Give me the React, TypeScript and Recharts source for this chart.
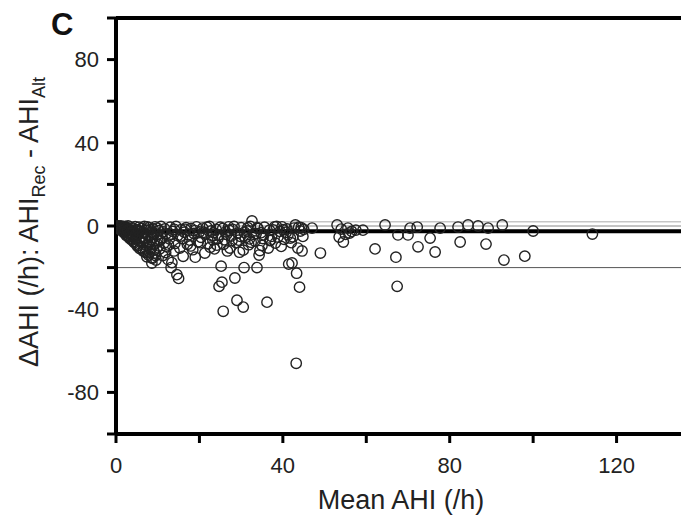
import { ReferenceLine, Scatter, ScatterChart, XAxis, YAxis } from "recharts";

// mean AHI (x) and difference Rec - Alt (y) in three bands
const lowMean = [
  0.2, 0.4, 0.5, 0.7, 0.8, 1.0, 1.1, 1.2, 1.4, 1.5, 1.7, 1.8, 2.0, 2.1, 2.3, 2.4, 2.6, 2.7, 2.9, 3.0,
  3.1, 3.3, 3.5, 3.6, 3.7, 3.9, 4.0, 4.2, 4.3, 4.5, 4.6, 4.8, 4.9, 5.0,
  5.2, 5.3, 5.5, 5.6, 5.8, 5.9, 6.1, 6.2, 6.4, 6.5, 6.7, 6.8, 7.0, 7.1, 7.3, 7.4, 7.4, 7.6, 7.8, 7.9,
  8.1, 8.3, 8.4, 8.6, 8.6, 8.8, 8.9, 9.1, 9.3, 9.4, 9.6, 9.8, 10.0,
  10.3, 10.5, 10.8, 11.0, 11.2, 11.5, 11.7, 12.0, 12.2, 12.5, 12.8, 13.0, 13.2, 13.4, 13.6, 13.9, 14.1,
  14.4, 14.6, 14.8,
  0.3, 0.6, 0.9, 1.3, 1.6, 1.9, 2.2, 2.5, 2.8, 3.2, 3.4, 3.8, 4.1, 4.4, 4.7, 5.1, 5.4, 5.7, 6.0, 6.3,
  6.6, 6.9, 7.2, 7.5, 7.7, 8.0, 8.2, 8.5, 8.7, 9.0, 9.2, 9.5, 9.7, 9.9, 10.6, 11.3, 11.9, 12.6, 13.3, 14.0,
];
const lowDiff = [
  -0.1, -0.3, 0, -0.6, -0.2, -1.2, -0.4, 0, -1.8, -0.8, -2.6, -0.3, -1.5, -3.4, -0.6, -2.2, -4.2, -1.1, 0, -3.0,
  -5.2, -1.8, -0.5, -4.0, -6.2, -2.6, -1.0, -5.0, -7.4, -3.2, -0.3, -6.0, -8.6, -1.8,
  -4.2, -9.2, -0.6, -6.8, -2.6, -10.4, -5.0, -1.2, -8.0, -11.6, -3.4, -0.2, -6.2, -12.8, -9.4, -2.0, -14.8, -4.6, -14.0, -0.8,
  -7.6, -11.2, -3.0, -15.2, -17.8, -5.6, -1.4, -9.0, -13.0, -0.4, -16.4, -4.2, -7.0,
  -2.2, -11.0, -0.2, -5.6, -14.2, -8.2, -1.4, -3.8, -10.0, -16.2, -6.2, -0.6, -20.0, -17.6, -2.6, -12.0, -8.4,
  -0.2, -23.4, -4.6,
  -0.4, -0.9, -1.5, -2.2, -1.0, -3.2, -0.2, -4.6, -2.0, -5.8, -3.6, -6.8, -2.4, -8.0, -4.4, -9.6, -2.2, -10.8, -7.2, -3.2,
  -12.2, -5.4, -10.6, -0.4, -8.8, -12.6, -1.8, -6.6, -15.6, -11.6, -3.6, -14.2, -8.0, -1.0, -6.8, -2.8, -12.8, -9.2, -4.0, -1.6,
];

const midMean = [
  15.0, 15.3, 15.6, 15.9, 16.1, 16.4, 16.8, 17.1, 17.4, 17.7, 18.0, 18.4, 18.7, 19.0, 19.3, 19.7, 20.0,
  20.4, 20.8, 21.3, 21.6, 22.0, 22.4, 22.8, 23.2, 23.6, 24.0, 24.2, 24.6, 24.7, 25.0, 25.2, 25.4, 25.7,
  26.0, 26.3, 26.7, 27.0, 27.3, 27.6, 28.0, 28.5, 28.8, 29.0, 29.2, 29.6, 30.0, 30.5, 30.5, 30.7,
  31.0, 31.4, 31.8, 32.2, 32.6, 33.0, 33.3, 33.8, 34.0, 34.3, 34.5, 34.8, 35.2, 35.6, 36.2, 36.5, 36.8,
  37.3, 37.7, 38.2, 38.8, 39.3, 39.8, 40.3, 40.8, 41.2, 41.4, 42.0, 42.2, 42.7, 43.0, 43.2, 43.3, 43.6,
  44.0, 44.2, 44.6,
  21.0, 23.0, 25.6, 27.8, 29.8, 31.6, 33.6, 35.0, 37.0, 38.5, 40.0, 41.8, 43.8, 22.6, 26.5, 32.0,
  15.5, 16.6, 17.9, 18.9, 20.2, 21.8, 23.4, 24.4, 25.8, 27.1, 28.3, 29.4, 30.8, 32.4, 33.9, 35.4, 36.9,
  38.0, 39.6, 41.0, 42.4, 44.4,
];
const midDiff = [
  -25.2, -10.6, -1.8, -6.0, -14.6, -3.0, -0.8, -8.8, -4.2, -6.8, -1.2, -11.4, -3.6, -15.0, -0.4, -7.6, -2.8,
  -5.4, -1.0, -13.0, -3.8, -8.6, -0.2, -2.4, -6.6, -11.0, -1.6, -9.2, -4.4, -29.0, -0.6, -19.3, -27.0, -41.0,
  -6.6, -2.8, -12.0, -0.4, -10.6, -4.8, -1.6, -25.0, -8.0, -35.7, -3.4, -12.6, -0.8, -39.0, -11.6, -20.0,
  -5.6, -2.4, -9.0, -0.2, 2.4, -4.0, -7.2, -20.0, -1.2, -14.0, -11.8, -3.2, -6.0, -0.6, -36.6, -10.6, -2.0,
  -5.0, -1.9, -8.2, -5.3, -2.6, -0.4, -6.4, -3.0, -4.3, -18.3, -8.0, -17.8, -1.0, 0.5, -66.0, -22.7, -10.6,
  -29.4, -2.4, -12.0,
  -3.0, -4.6, -1.2, -7.0, -5.0, -0.8, -3.6, -9.4, -6.8, -0.2, -1.8, -5.8, -0.6, -10.2, -4.0, -6.2,
  -4.8, -1.6, -9.6, -2.2, -8.0, -0.6, -3.2, -6.0, -8.8, -2.0, -0.2, -6.8, -3.0, -7.8, -0.8, -4.2, -7.0,
  -0.4, -9.8, -1.4, -5.2, -0.8,
];

const highMean = [
  45.0, 47.0, 49.0, 53.0, 53.5, 54.5, 55.6, 56.0, 57.5, 59.2, 62.1, 64.5, 67.1, 67.4, 67.6, 70.0, 70.5,
  72.2, 72.4, 75.3, 76.5, 77.7, 82.0, 82.5, 84.4, 86.8, 88.7, 89.2, 92.6, 93.0, 98.0, 100.0, 114.2,
  44.8, 54.0, 55.0, 56.5,
];
const highDiff = [
  -1.6, -1.0, -13.0, 0.5, -5.3, -7.7, -1.0, -3.4, -2.0, -2.0, -11.0, 0.5, -15.0, -29.0, -4.3, -4.3, -1.0,
  -0.5, -10.0, -5.8, -12.5, -1.0, -0.5, -7.7, 0.5, 0.0, -8.7, -1.0, 0.5, -16.4, -14.5, -2.4, -3.9,
  -5.0, -1.5, -4.0, -2.6,
];

const xTicks = [0, 20, 40, 60, 80, 100, 120, 140];
const xLabels = [0, 40, 80, 120];
const yTicks = [-100, -80, -60, -40, -20, 0, 20, 40, 60, 80, 100];
const yLabels = [-80, -40, 0, 40, 80];

const meanBias = -2.5;
const upperLine = 2;
const zeroLine = 0;
const lowerLine = -20;

const points = [
  ...lowMean.map((x, i) => ({ x, y: lowDiff[i] })),
  ...midMean.map((x, i) => ({ x, y: midDiff[i] })),
  ...highMean.map((x, i) => ({ x, y: highDiff[i] })),
];

const FONT = "'Liberation Sans', Arial, sans-serif";

const OpenCircle = (props: any) => (
  <circle cx={props.cx} cy={props.cy} r={5.2} fill="none" stroke="#222" strokeWidth={1.4} />
);

export default function App() {
  return (
    <div
      style={{
        position: "fixed",
        left: 0,
        top: 0,
        width: 681,
        height: 522,
        overflow: "hidden",
        background: "#fff",
        fontFamily: FONT,
      }}
    >
      <ScatterChart width={720} height={522} margin={{ top: 18, right: 20, bottom: 58, left: 56 }}>
        <XAxis
          type="number"
          dataKey="x"
          domain={[0, 140]}
          ticks={xTicks}
          tickFormatter={(v) => (xLabels.includes(v) ? String(v) : "")}
          axisLine={{ stroke: "#000", strokeWidth: 4 }}
          tickLine={{ stroke: "#000", strokeWidth: 3 }}
          tickSize={9}
          tickMargin={14}
          tick={{ fill: "#222", fontSize: 22, fontFamily: FONT }}
          height={30}
          allowDataOverflow
        />
        <YAxis
          type="number"
          dataKey="y"
          domain={[-100, 100]}
          ticks={yTicks}
          tickFormatter={(v) => (yLabels.includes(v) ? String(v) : "")}
          axisLine={{ stroke: "#000", strokeWidth: 4 }}
          tickLine={{ stroke: "#000", strokeWidth: 3 }}
          tickSize={9}
          tickMargin={8}
          tick={{ fill: "#222", fontSize: 22, fontFamily: FONT }}
          width={60}
        />
        <Scatter data={points} shape={OpenCircle} isAnimationActive={false} />
        <ReferenceLine y={upperLine} stroke="#aaa" strokeWidth={1} />
        <ReferenceLine y={zeroLine} stroke="#888" strokeWidth={1} />
        <ReferenceLine y={lowerLine} stroke="#555" strokeWidth={1} />
        <ReferenceLine y={meanBias} stroke="#000" strokeWidth={4} />
        <ReferenceLine y={100} stroke="#000" strokeWidth={4} />
      </ScatterChart>

      <div style={{ position: "absolute", left: 51, top: 7, fontSize: 31, fontWeight: "bold", color: "#111" }}>C</div>

      <div
        style={{
          position: "absolute",
          left: 32,
          top: 222,
          transform: "translate(-50%, -50%) rotate(-90deg)",
          whiteSpace: "nowrap",
          fontSize: 27,
          color: "#222",
        }}
      >
        ΔAHI (/h): AHI<sub style={{ fontSize: 18 }}>Rec</sub> - AHI<sub style={{ fontSize: 18 }}>Alt</sub>
      </div>

      <div
        style={{
          position: "absolute",
          left: 401,
          top: 500,
          transform: "translate(-50%, -50%)",
          whiteSpace: "nowrap",
          fontSize: 27,
          color: "#222",
        }}
      >
        Mean AHI (/h)
      </div>
    </div>
  );
}
